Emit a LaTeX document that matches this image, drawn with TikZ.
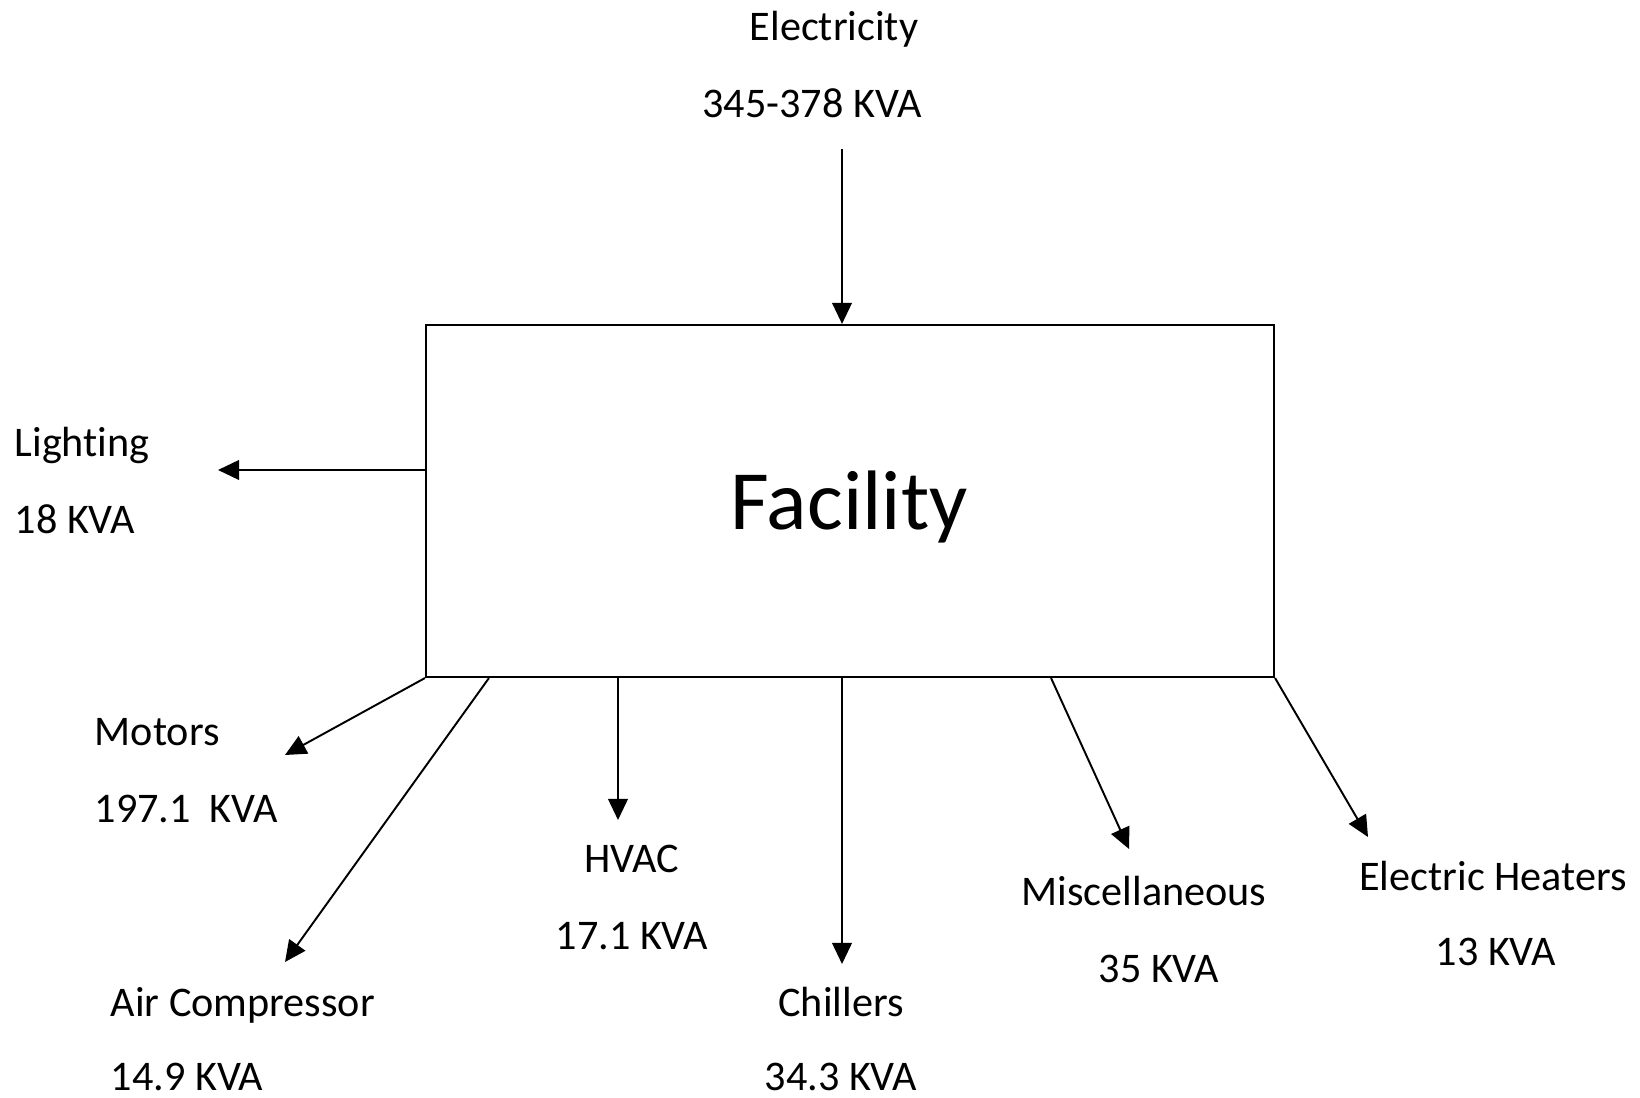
\documentclass[tikz,border=0pt]{standalone}
\usepackage{fontspec}
\setmainfont[Ligatures=NoCommon]{Carlito}
\usepackage{tikz}
\usetikzlibrary{arrows.meta,calc}

\tikzset{
  facbox/.style={draw, line width=0.6pt, minimum width=848*0.01cm, minimum height=352*0.01cm, inner sep=0pt, font=\fontsize{24}{28}\selectfont},
  lbl/.style={inner sep=0pt, font=\fontsize{12}{14}\selectfont},
  flow/.style={line width=0.55pt, -{Triangle[length=6pt,width=5.6pt]}}
}

\begin{document}
\begin{tikzpicture}[x=0.01cm, y=-0.01cm]
        \useasboundingbox (0,0) rectangle (1640,1098);

        % the facility itself
        \node[facbox] (facility) at (850,501) {};
        \node[font=\fontsize{24}{28}\selectfont, inner sep=0pt, anchor=base] (facName) at (849,530) {Facility};

        % incoming supply
        \node[lbl, anchor=base] (elecName) at (834,41) {Electricity};
        \node[lbl, anchor=base] (elecVal) at (812,118) {345-378 KVA};
        \coordinate (elecTop) at (842,149);
        \draw[flow] (elecTop) -- (facility.north -| elecTop);

        % loads
        \node[lbl, anchor=base west] (lightName) at (14,457) {Lighting};
        \node[lbl, anchor=base west] (lightVal) at (14,534) {18 KVA};
        \coordinate (lightEnd) at (218,470);
        \draw[flow] (facility.west |- lightEnd) -- (lightEnd);

        \node[lbl, anchor=base west] (motName) at (94,745) {Motors};
        \node[lbl, anchor=base west] (motVal) at (94,822) {197.1\ \ KVA};
        \coordinate (motEnd) at (285,755);
        \draw[flow] (facility.south west) -- (motEnd);

        \node[lbl, anchor=base west] (airName) at (110,1016) {Air Compressor};
        \node[lbl, anchor=base west] (airVal) at (110,1090) {14.9 KVA};
        \coordinate (airEnd) at (285,962);
        \draw[flow] ($(facility.south west)+(64,0)$) -- (airEnd);

        \node[lbl, anchor=base] (hvacName) at (632,872) {HVAC};
        \node[lbl, anchor=base] (hvacVal) at (632,949) {17.1 KVA};
        \coordinate (hvacEnd) at (618,820);
        \draw[flow] (facility.south -| hvacEnd) -- (hvacEnd);

        \node[lbl, anchor=base] (chilName) at (841,1016) {Chillers};
        \node[lbl, anchor=base] (chilVal) at (841,1090) {34.3 KVA};
        \coordinate (chilEnd) at (842,964);
        \draw[flow] (facility.south -| chilEnd) -- (chilEnd);

        \node[lbl, anchor=base] (miscName) at (1144,905) {Miscellaneous};
        \node[lbl, anchor=base] (miscVal) at (1159,982) {35 KVA};
        \coordinate (miscEnd) at (1129,849);
        \draw[flow] ($(facility.south east)+(-224,0)$) -- (miscEnd);

        \node[lbl, anchor=base] (heatName) at (1493,890) {Electric Heaters};
        \node[lbl, anchor=base] (heatVal) at (1496,965) {13 KVA};
        \coordinate (heatEnd) at (1368,837);
        \draw[flow] (facility.south east) -- (heatEnd);
\end{tikzpicture}
\end{document}
